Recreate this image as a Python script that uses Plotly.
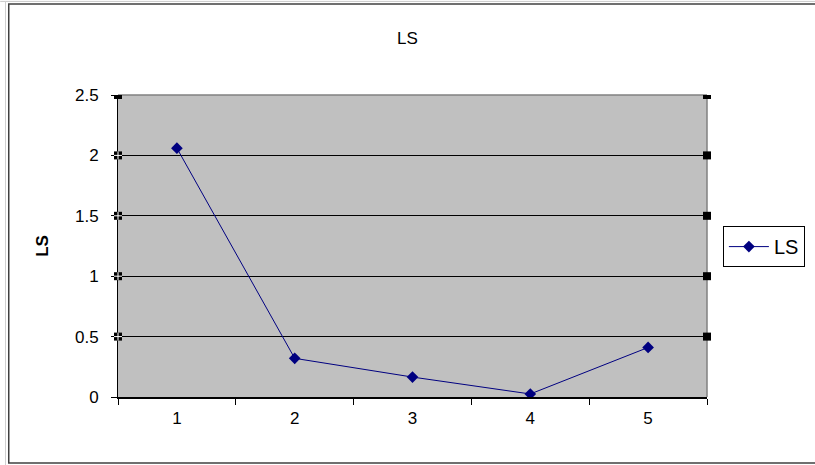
import plotly.graph_objects as go

# Series data
categories = ["1", "2", "3", "4", "5"]
ls_values = [2.06, 0.32, 0.165, 0.025, 0.41]
y_ticks = [0, 0.5, 1, 1.5, 2, 2.5]
y_tick_labels = ["0", "0.5", "1", "1.5", "2", "2.5"]

FONT = "Arial, Liberation Sans, sans-serif"
NAVY = "#000080"

fig = go.Figure()
fig.add_trace(go.Scatter(
    x=categories,
    y=ls_values,
    mode="lines+markers",
    name="LS",
    line=dict(color=NAVY, width=1),
    marker=dict(symbol="diamond", size=9, color=NAVY),
))

shapes = []

# outer chart border plus faint sheet grid lines behind it
shapes.append(dict(type="rect", xref="paper", yref="paper",
                   x0=-0.1855, x1=1.19, y0=-0.2185, y1=1.301,
                   line=dict(color="#404040", width=1.5), layer="below"))
shapes.append(dict(type="line", xref="paper", yref="paper",
                   x0=-0.2, x1=1.2, y0=1.31, y1=1.31,
                   line=dict(color="#c8c8c8", width=1)))
shapes.append(dict(type="line", xref="paper", yref="paper",
                   x0=-0.191, x1=-0.191, y0=-0.23, y1=1.31,
                   line=dict(color="#d0d0d0", width=1)))

# plot area top and right edges
shapes.append(dict(type="line", xref="paper", yref="paper",
                   x0=0, x1=1, y0=1, y1=1,
                   line=dict(color="#808080", width=1.5)))
shapes.append(dict(type="line", xref="paper", yref="paper",
                   x0=1, x1=1, y0=0, y1=1,
                   line=dict(color="#808080", width=1.5)))

# selection handles on the plot area edges
for v in y_ticks[1:]:
    for side in (0, 1):
        shapes.append(dict(type="rect", xref="paper", yref="y",
                           xsizemode="pixel", ysizemode="pixel",
                           xanchor=side, yanchor=v,
                           x0=-4, x1=4, y0=-4, y1=4,
                           fillcolor="black", line=dict(width=0)))
        if side == 0 and v != y_ticks[-1]:
            shapes.append(dict(type="line", xref="paper", yref="y",
                               xsizemode="pixel", ysizemode="pixel",
                               xanchor=side, yanchor=v,
                               x0=-4, x1=4, y0=0, y1=0,
                               line=dict(color="white", width=1)))
            shapes.append(dict(type="line", xref="paper", yref="y",
                               xsizemode="pixel", ysizemode="pixel",
                               xanchor=side, yanchor=v,
                               x0=0, x1=0, y0=-4, y1=4,
                               line=dict(color="white", width=1)))

fig.update_layout(
    width=815,
    height=465,
    margin=dict(l=118, r=108, t=95, b=68, autoexpand=False),
    paper_bgcolor="white",
    plot_bgcolor="#C0C0C0",
    font=dict(family=FONT, size=17, color="black"),
    title=dict(text="LS", x=0.5, xanchor="center", y=1 - 38 / 465,
               yanchor="middle", font=dict(size=17, color="black")),
    showlegend=True,
    legend=dict(x=1.027, xanchor="left", y=0.498, yanchor="middle",
                bgcolor="white", bordercolor="black", borderwidth=1,
                font=dict(size=20, color="black"),
                itemwidth=40, tracegroupgap=0),
    xaxis=dict(
        type="category",
        categoryorder="array",
        categoryarray=categories,
        tickson="boundaries",
        ticks="outside",
        ticklen=6,
        tickcolor="black",
        tickwidth=1,
        showgrid=False,
        showline=True,
        linecolor="black",
        linewidth=1.5,
        range=[-0.5, 4.5],
        tickfont=dict(size=17, color="black"),
        ticklabelstandoff=5,
    ),
    yaxis=dict(
        range=[0, 2.5],
        tickvals=y_ticks,
        ticktext=y_tick_labels,
        ticks="outside",
        ticklen=6,
        tickcolor="black",
        showgrid=True,
        gridcolor="black",
        gridwidth=1,
        zeroline=False,
        showline=True,
        linecolor="black",
        linewidth=1,
        tickfont=dict(size=17, color="black"),
        ticklabelstandoff=9,
        title=dict(text="<b>LS</b>", font=dict(size=17, color="black"),
                   standoff=22),
    ),
    shapes=shapes,
)

fig.write_html("out.html")
